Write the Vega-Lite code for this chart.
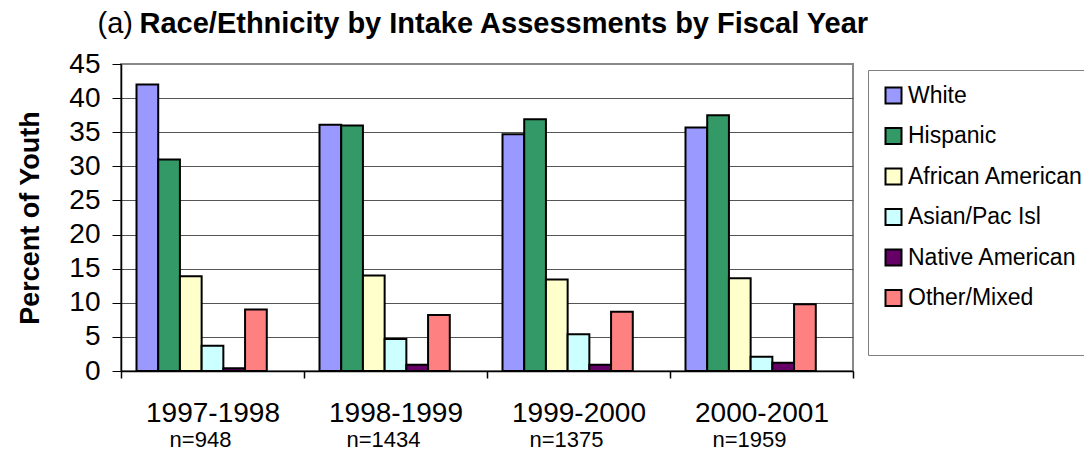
{
  "$schema": "https://vega.github.io/schema/vega-lite/v6.json",
  "autosize": {"type": "none"},
  "padding": {"left": 121, "top": 64, "right": 231, "bottom": 83},
  "width": 732,
  "height": 307,
  "config": {
    "font": "Liberation Sans",
    "view": {"stroke": "#888888", "strokeWidth": 2},
    "axis": {"labelColor": "#000000", "titleColor": "#000000"}
  },
  "data": {
    "values": [
      {"year": "1997-1998", "race": "White", "pct": 42.0},
      {"year": "1997-1998", "race": "Hispanic", "pct": 31.0},
      {"year": "1997-1998", "race": "African American", "pct": 13.9},
      {"year": "1997-1998", "race": "Asian/Pac Isl", "pct": 3.7},
      {"year": "1997-1998", "race": "Native American", "pct": 0.4},
      {"year": "1997-1998", "race": "Other/Mixed", "pct": 9.0},
      {"year": "1998-1999", "race": "White", "pct": 36.1},
      {"year": "1998-1999", "race": "Hispanic", "pct": 36.0},
      {"year": "1998-1999", "race": "African American", "pct": 14.0},
      {"year": "1998-1999", "race": "Asian/Pac Isl", "pct": 4.7},
      {"year": "1998-1999", "race": "Native American", "pct": 0.9},
      {"year": "1998-1999", "race": "Other/Mixed", "pct": 8.2},
      {"year": "1999-2000", "race": "White", "pct": 34.7},
      {"year": "1999-2000", "race": "Hispanic", "pct": 36.9},
      {"year": "1999-2000", "race": "African American", "pct": 13.4},
      {"year": "1999-2000", "race": "Asian/Pac Isl", "pct": 5.4},
      {"year": "1999-2000", "race": "Native American", "pct": 0.9},
      {"year": "1999-2000", "race": "Other/Mixed", "pct": 8.7},
      {"year": "2000-2001", "race": "White", "pct": 35.7},
      {"year": "2000-2001", "race": "Hispanic", "pct": 37.5},
      {"year": "2000-2001", "race": "African American", "pct": 13.6},
      {"year": "2000-2001", "race": "Asian/Pac Isl", "pct": 2.1},
      {"year": "2000-2001", "race": "Native American", "pct": 1.2},
      {"year": "2000-2001", "race": "Other/Mixed", "pct": 9.8}
    ]
  },
  "resolve": {"axis": {"x": "independent"}},
  "layer": [
    {
      "mark": {"type": "bar", "stroke": "#000000", "strokeWidth": 2},
      "encoding": {
        "x": {
          "field": "year", "type": "nominal", "sort": null,
          "scale": {"paddingInner": 0, "paddingOuter": 0},
          "axis": {
            "orient": "bottom",
            "title": null, "labelAngle": 0, "labelFontSize": 28, "labelPadding": 21,
            "ticks": true, "tickBand": "extent", "tickSize": 7, "tickColor": "#000000", "tickWidth": 1.5,
            "domainColor": "#000000", "domainWidth": 1.5
          }
        },
        "xOffset": {
          "field": "race", "type": "nominal",
          "scale": {
            "domain": ["White", "Hispanic", "African American", "Asian/Pac Isl", "Native American", "Other/Mixed", "_gap"],
            "paddingInner": 0, "paddingOuter": 0.714
          }
        },
        "y": {
          "field": "pct", "type": "quantitative",
          "scale": {"domain": [0, 45], "nice": false},
          "axis": {
            "title": "Percent of Youth", "titleFontSize": 27, "titleFontWeight": "bold", "titlePadding": 24,
            "values": [0, 5, 10, 15, 20, 25, 30, 35, 40, 45],
            "labelFontSize": 28, "labelPadding": 12, "tickSize": 9, "tickColor": "#000000",
            "domainColor": "#000000", "domainWidth": 1.5,
            "grid": true,
            "gridColor": {"condition": {"test": "datum.value === 45", "value": "#888888"}, "value": "#555555"},
            "gridWidth": 1
          }
        },
        "color": {
          "field": "race", "type": "nominal",
          "scale": {
            "domain": ["White", "Hispanic", "African American", "Asian/Pac Isl", "Native American", "Other/Mixed"],
            "range": ["#9999FF", "#339966", "#FFFFCC", "#CCFFFF", "#660066", "#FF8080"]
          },
          "legend": {
            "orient": "none", "legendX": 747, "legendY": 6,
            "title": " ", "titleOrient": "bottom", "titleFontSize": 23, "titlePadding": 8,
            "padding": 14, "strokeColor": "#808080", "fillColor": "#FFFFFF",
            "symbolType": "square", "symbolSize": 256, "symbolStrokeColor": "#000000", "symbolStrokeWidth": 2,
            "labelFontSize": 23, "labelColor": "#000000", "labelOffset": 3, "labelLimit": 300,
            "rowPadding": 15.5
          }
        }
      }
    },
    {
      "mark": {"type": "point", "opacity": 0},
      "encoding": {
        "x": {
          "field": "year", "type": "nominal", "sort": null,
          "axis": {
            "orient": "bottom",
            "title": null, "labelAngle": 0, "labelFontSize": 22, "labelPadding": 58, "labelOffset": -12,
            "ticks": false, "tickSize": 0, "domain": false,
            "labelExpr": "datum.value == '1997-1998' ? 'n=948' : datum.value == '1998-1999' ? 'n=1434' : datum.value == '1999-2000' ? 'n=1375' : 'n=1959'"
          }
        }
      }
    },
    {
      "mark": {"type": "point", "opacity": 0},
      "encoding": {
        "x": {
          "field": "year", "type": "nominal", "sort": null,
          "axis": {
            "orient": "top", "labels": false, "ticks": false, "domain": false,
            "title": "(a)", "titleFontSize": 29, "titleFontWeight": "normal",
            "titleX": -24, "titleY": -32, "titleAlign": "left", "titleBaseline": "alphabetic", "titleAnchor": "start"
          }
        }
      }
    },
    {
      "mark": {"type": "point", "opacity": 0},
      "encoding": {
        "x": {
          "field": "year", "type": "nominal", "sort": null,
          "axis": {
            "orient": "top", "labels": false, "ticks": false, "domain": false,
            "title": "Race/Ethnicity by Intake Assessments by Fiscal Year", "titleFontSize": 29, "titleFontWeight": "bold",
            "titleX": 18, "titleY": -32, "titleAlign": "left", "titleBaseline": "alphabetic", "titleAnchor": "start"
          }
        }
      }
    }
  ]
}
